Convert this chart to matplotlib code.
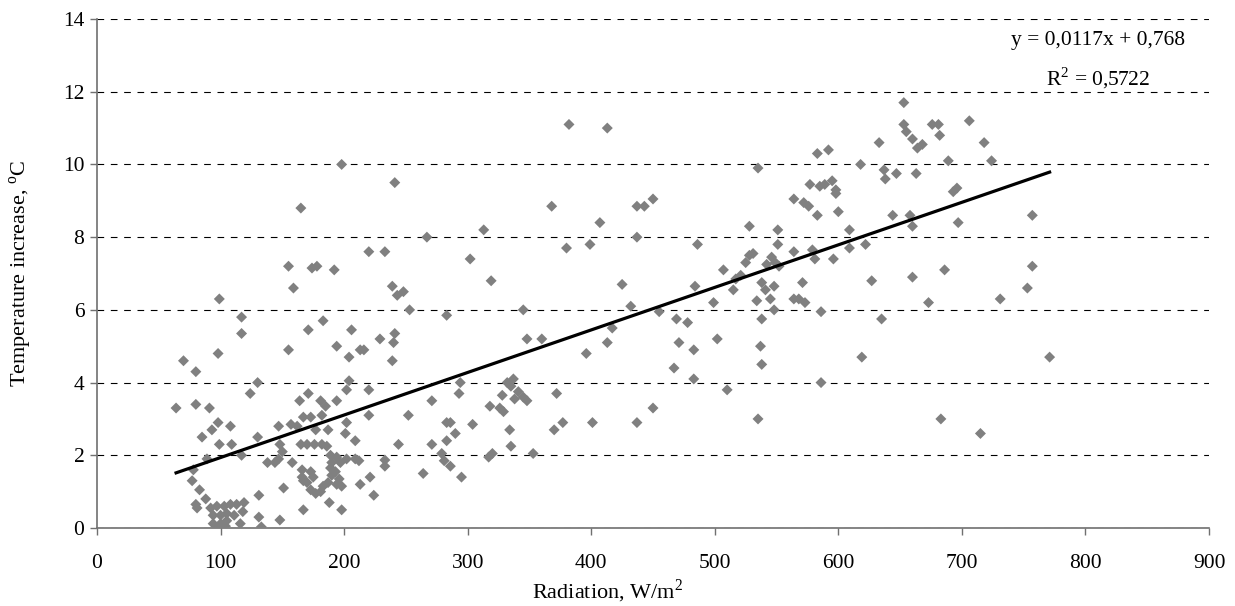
import matplotlib
matplotlib.use("Agg")
import matplotlib.pyplot as plt
import numpy as np

# Radiation (W/m2) and temperature increase (°C)
radiation = [
    64, 70, 80, 80, 91, 99, 98, 117, 117, 124, 130,
    85, 93, 98, 99, 108, 109, 117,
    89, 78, 77, 83, 80, 81, 88,
    92, 97, 103, 108, 113, 119,
    94, 100, 105, 111, 118,
    94, 100, 105, 116, 99, 104,
    130, 131, 131, 133, 148,
    198, 241, 165, 267, 220, 233, 155, 174, 178, 192,
    159, 239, 243, 248, 253, 283, 183, 171, 206,
    155, 194, 213, 216, 204, 229, 241, 240, 239,
    171, 164, 204, 202, 181, 185, 194, 220, 220,
    167, 173, 182, 202, 271, 252, 283,
    147, 157, 162, 187, 177, 201, 209, 244, 271, 283,
    148, 150, 147,
    165, 170, 176, 182, 186,
    189, 190, 189, 190, 187, 183, 181, 177, 173, 170, 167, 166,
    194, 197, 202, 209, 212, 193, 196, 198, 194,
    173, 175, 166,
    138, 144, 158, 233, 233, 264,
    213, 221, 224,
    151, 167, 188, 198,
    382, 413, 368, 437, 407, 313, 437, 380, 399, 302, 319, 425, 432,
    345, 348, 360, 417, 413, 396,
    294, 293, 332, 337, 335, 341, 345, 348, 338, 328, 318, 326, 329, 372,
    286, 290, 304, 334, 370, 377, 401, 437, 335, 317, 320, 353,
    279, 281, 286, 295,
    535, 583, 592, 577, 585, 589, 564, 572, 576, 583,
    443, 450, 486, 528, 551, 551, 528, 531, 525, 546, 549, 552, 542, 564, 579, 581,
    507, 521, 517, 484, 515, 499, 534, 538, 541, 548, 545, 548, 564, 568, 573, 571, 586,
    455, 469, 478, 538, 502, 471, 483, 537, 538, 467, 483, 586, 510, 450, 535,
    653, 653, 655, 660, 664, 668, 676, 681, 682, 706, 718, 724, 689, 633, 618,
    637, 638, 647, 663, 595, 598, 598, 693, 696, 600, 644, 658, 660, 609, 697,
    609, 622, 596, 627, 660, 686, 731, 673, 635, 619, 683, 715,
    757, 757, 753, 771,
]
temp_increase = [
    3.3, 4.6, 4.3, 3.4, 3.3, 6.3, 4.8, 5.8, 5.35, 3.7, 4.0,
    2.5, 2.7, 2.9, 2.3, 2.8, 2.3, 2.0,
    1.9, 1.6, 1.3, 1.05, 0.65, 0.55, 0.8,
    0.55, 0.6, 0.6, 0.65, 0.65, 0.7,
    0.35, 0.35, 0.4, 0.35, 0.45,
    0.12, 0.12, 0.2, 0.12, 0.05, 0.05,
    2.5, 0.9, 0.3, 0.03, 0.22,
    10.0, 9.5, 8.8, 8.0, 7.6, 7.6, 7.2, 7.15, 7.2, 7.1,
    6.6, 6.65, 6.4, 6.5, 6.0, 5.85, 5.7, 5.45, 5.45,
    4.9, 5.0, 4.9, 4.9, 4.7, 5.2, 5.35, 5.1, 4.6,
    3.7, 3.5, 4.05, 3.8, 3.5, 3.35, 3.5, 3.8, 3.1,
    3.05, 3.05, 3.1, 2.9, 3.5, 3.1, 2.9,
    2.8, 2.85, 2.8, 2.7, 2.7, 2.6, 2.4, 2.3, 2.3, 2.4,
    2.3, 2.1, 1.9,
    2.3, 2.3, 2.3, 2.3, 2.25,
    2.0, 1.8, 1.65, 1.45, 1.25, 1.15, 1.0, 0.95, 1.05, 1.25, 1.3, 1.4,
    1.95, 1.8, 1.9, 1.9, 1.85, 1.55, 1.35, 1.15, 1.2,
    1.55, 1.4, 1.6,
    1.8, 1.8, 1.8, 1.87, 1.7, 1.5,
    1.2, 1.4, 0.9,
    1.1, 0.5, 0.7, 0.5,
    11.1, 11.0, 8.85, 8.85, 8.4, 8.2, 8.0, 7.7, 7.8, 7.4, 6.8, 6.7, 6.1,
    6.0, 5.2, 5.2, 5.5, 5.1, 4.8,
    4.0, 3.7, 4.0, 4.1, 3.9, 3.75, 3.6, 3.5, 3.55, 3.65, 3.35, 3.3, 3.2, 3.7,
    2.9, 2.6, 2.85, 2.7, 2.7, 2.9, 2.9, 2.9, 2.25, 1.95, 2.05, 2.05,
    2.05, 1.85, 1.7, 1.4,
    9.9, 10.3, 10.4, 9.45, 9.4, 9.45, 9.05, 8.95, 8.85, 8.6,
    8.85, 9.05, 7.8, 8.3, 8.2, 7.8, 7.5, 7.55, 7.3, 7.45, 7.3, 7.2, 7.25, 7.6, 7.65, 7.4,
    7.1, 6.95, 6.85, 6.65, 6.55, 6.2, 6.25, 6.75, 6.55, 6.65, 6.3, 6.0, 6.3, 6.3, 6.2, 6.75, 5.95,
    5.95, 5.75, 5.65, 5.75, 5.2, 5.1, 4.9, 5.0, 4.5, 4.4, 4.1, 4.0, 3.8, 3.3, 3.0,
    11.7, 11.1, 10.9, 10.7, 10.45, 10.55, 11.1, 11.1, 10.8, 11.2, 10.6, 10.1, 10.1, 10.6, 10.0,
    9.85, 9.6, 9.75, 9.75, 9.55, 9.3, 9.2, 9.25, 9.35, 8.7, 8.6, 8.6, 8.3, 8.2, 8.4,
    7.7, 7.8, 7.4, 6.8, 6.9, 7.1, 6.3, 6.2, 5.75, 4.7, 3.0, 2.6,
    8.6, 7.2, 6.6, 4.7,
]

# Trendline from the chart's equation
slope = 0.0117
intercept = 0.768
eq_text = "y = 0,0117x + 0,768"
r2_text = "R$^\\mathregular{2}$ = 0,5722"

x_ticks = [0, 100, 200, 300, 400, 500, 600, 700, 800, 900]
y_ticks = [0, 2, 4, 6, 8, 10, 12, 14]

plt.rcParams['font.family'] = ['Liberation Serif', 'DejaVu Serif']
plt.rcParams['mathtext.fontset'] = 'custom'
plt.rcParams['mathtext.rm'] = 'Liberation Serif'

W, H = 1235, 606
fig = plt.figure(figsize=(W / 100, H / 100), dpi=100)
ax = fig.add_axes([97 / W, 1 - 528 / H, (1209 - 97) / W, (528 - 19) / H])

ax.scatter(radiation, temp_increase, marker='D', s=5.6**2, color='#808080',
           edgecolors='none', zorder=3)

xr = np.array([min(radiation), max(radiation)])
ax.plot(xr, slope * xr + intercept, color='black', lw=2.3, zorder=4)

ax.set_xlim(0, 900)
ax.set_ylim(0, 14)
ax.set_xticks(x_ticks)
ax.set_yticks(y_ticks)
ax.tick_params(axis='both', direction='out', length=5, width=1, color='#707070',
               labelsize=15.5)
ax.tick_params(axis='x', pad=14)
ax.tick_params(axis='y', pad=4)
for s in ['top', 'right']:
    ax.spines[s].set_visible(False)
for s in ['left', 'bottom']:
    ax.spines[s].set_color('#707070')
    ax.spines[s].set_linewidth(1.2)

ax.yaxis.grid(True, color='black', linestyle=(0, (6, 6)), linewidth=0.8)
ax.set_axisbelow(True)

ax.set_xlabel("Radiation, W/m$^\\mathregular{2}$", fontsize=16)
ax.xaxis.set_label_coords((608 - 97) / (1209 - 97), (528 - 605) / (528 - 19))
ax.xaxis.label.set_va('bottom')
ax.set_ylabel("Temperature increase, $^\\mathregular{o}$C", fontsize=16)
ax.yaxis.set_label_coords((21 - 97) / (1209 - 97), 0.5)
ax.yaxis.label.set_va('center')

ax.text(810, 13.42, eq_text, fontsize=15.5, ha='center', va='center')
ax.text(810, 12.38, r2_text, fontsize=15.5, ha='center', va='center')

fig.savefig("out.png", dpi=100)
